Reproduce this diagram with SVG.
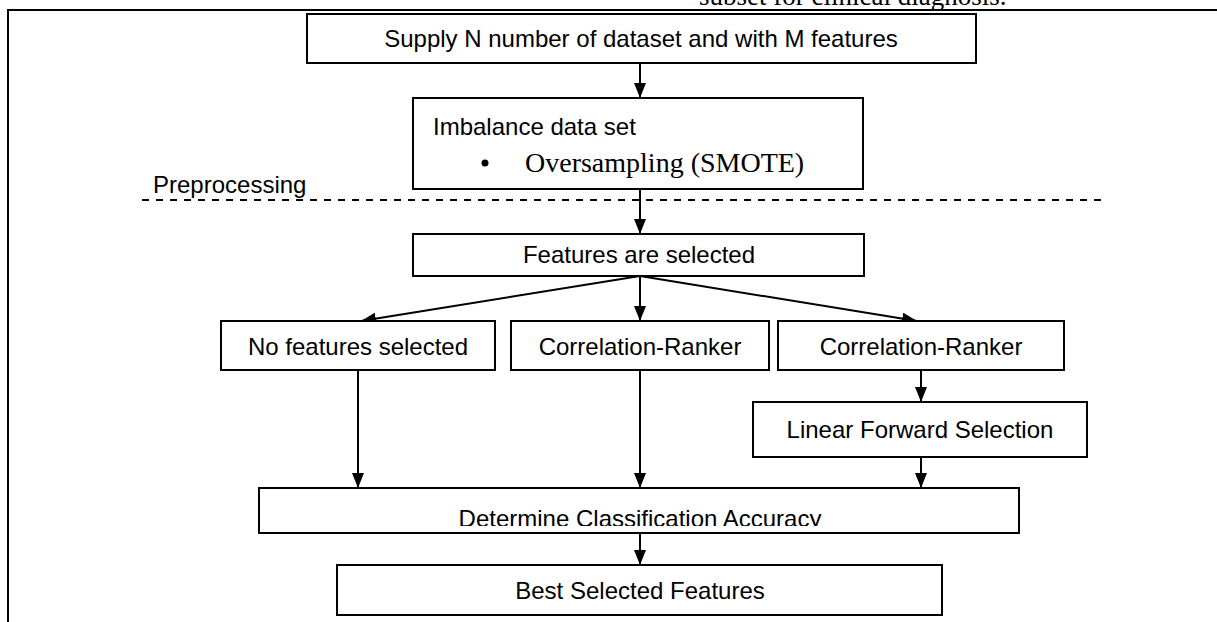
<svg xmlns="http://www.w3.org/2000/svg" width="1217" height="622" viewBox="0 0 1217 622">
  <style>
    .box { fill: #ffffff; stroke: #000000; stroke-width: 2; }
    .lbl { font-family: "Liberation Sans", Arial, sans-serif; font-size: 24px; fill: #000000; }
    .ser { font-family: "Liberation Serif", "Times New Roman", serif; fill: #000000; }
    .con { fill: none; stroke: #000000; stroke-width: 2; }
  </style>
  <defs>
    <marker id="arr" markerUnits="userSpaceOnUse" markerWidth="15" markerHeight="12" viewBox="0 0 15 12" refX="15" refY="6" orient="auto">
      <path d="M0,0 L15,6 L0,12 z" fill="#000000"/>
    </marker>
    <clipPath id="clipDCA">
      <rect x="260" y="489" width="758" height="37"/>
    </clipPath>
  </defs>
  <rect width="1217" height="622" fill="#ffffff"/>

  <g id="page">
    <text class="ser" x="699" y="5" font-size="27">subset for clinical diagnosis.</text>
    <path d="M8,623 V10 H1218" fill="none" stroke="#000000" stroke-width="2"/>
  </g>

  <g id="preprocessing">
    <text class="lbl" x="153" y="193">Preprocessing</text>
    <line x1="142" y1="200" x2="1108" y2="200" stroke="#000000" stroke-width="2" stroke-dasharray="7 7"/>
  </g>

  <g id="connectors">
    <line class="con" x1="640" y1="63" x2="640" y2="98" marker-end="url(#arr)"/>
    <line class="con" x1="640" y1="189" x2="640" y2="234" marker-end="url(#arr)"/>
    <line class="con" x1="640" y1="276" x2="361" y2="321" marker-end="url(#arr)"/>
    <line class="con" x1="640" y1="276" x2="640" y2="321" marker-end="url(#arr)"/>
    <line class="con" x1="640" y1="276" x2="917" y2="321" marker-end="url(#arr)"/>
    <line class="con" x1="921" y1="370" x2="921" y2="402" marker-end="url(#arr)"/>
    <line class="con" x1="358" y1="370" x2="358" y2="488" marker-end="url(#arr)"/>
    <line class="con" x1="640" y1="370" x2="640" y2="488" marker-end="url(#arr)"/>
    <line class="con" x1="921" y1="457" x2="921" y2="488" marker-end="url(#arr)"/>
    <line class="con" x1="640" y1="533" x2="640" y2="565" marker-end="url(#arr)"/>
  </g>

  <g id="supply">
    <rect class="box" x="307" y="14" width="669" height="49"/>
    <text class="lbl" x="641" y="47" text-anchor="middle">Supply N number of dataset and with M features</text>
  </g>

  <g id="imbalance">
    <rect class="box" x="413" y="98" width="450" height="91"/>
    <text class="lbl" x="433" y="135">Imbalance data set</text>
    <circle cx="485" cy="163" r="3.5" fill="#000000"/>
    <text class="ser" x="525" y="172" font-size="28">Oversampling (SMOTE)</text>
  </g>

  <g id="features">
    <rect class="box" x="413" y="234" width="451" height="42"/>
    <text class="lbl" x="639" y="263" text-anchor="middle">Features are selected</text>
  </g>

  <g id="nofeatures">
    <rect class="box" x="221" y="321" width="274" height="49"/>
    <text class="lbl" x="358" y="355" text-anchor="middle">No features selected</text>
  </g>

  <g id="corr1">
    <rect class="box" x="511" y="321" width="258" height="49"/>
    <text class="lbl" x="640" y="355" text-anchor="middle">Correlation-Ranker</text>
  </g>

  <g id="corr2">
    <rect class="box" x="778" y="321" width="286" height="49"/>
    <text class="lbl" x="921" y="355" text-anchor="middle">Correlation-Ranker</text>
  </g>

  <g id="lfs">
    <rect class="box" x="753" y="402" width="334" height="55"/>
    <text class="lbl" x="920" y="438" text-anchor="middle">Linear Forward Selection</text>
  </g>

  <g id="accuracy">
    <rect class="box" x="259" y="488" width="760" height="45"/>
    <text class="lbl" x="640" y="527" text-anchor="middle" clip-path="url(#clipDCA)">Determine Classification Accuracy</text>
  </g>

  <g id="best">
    <rect class="box" x="337" y="565" width="605" height="50"/>
    <text class="lbl" x="640" y="599" text-anchor="middle">Best Selected Features</text>
  </g>
</svg>
